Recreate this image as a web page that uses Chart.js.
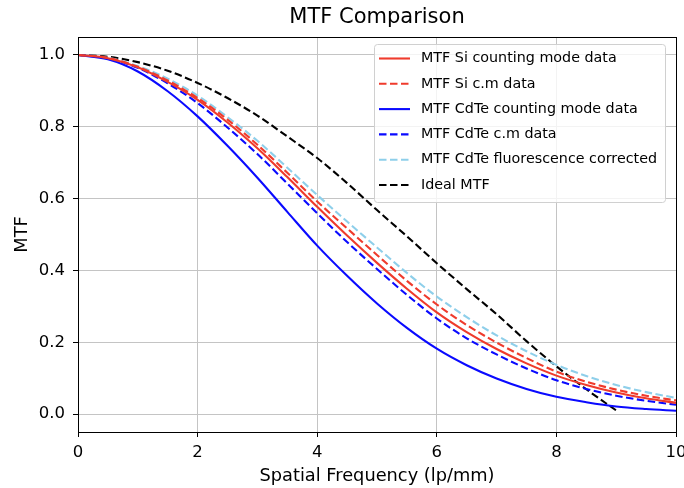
<!DOCTYPE html>
<html>
<head>
<meta charset="utf-8">
<script src="https://cdn.jsdelivr.net/npm/chart.js@4.4.1/dist/chart.umd.min.js"></script>
<style>
    html, body { margin: 0; padding: 0; background: #ffffff; }
    #wrap { width: 684px; height: 488px; }
</style>
</head>
<body>
<div id="wrap"><canvas id="mtfChart" width="684" height="488"></canvas></div>
<script>
// spatial frequency (lp/mm)
const freq = [0, 0.5, 1, 1.5, 2, 2.5, 3, 3.5, 4, 4.5, 5, 5.5, 6, 6.5, 7, 7.5, 8, 8.5, 9, 9.5, 10];
const freqIdeal = [0, 0.5, 1, 1.5, 2, 2.5, 3, 3.5, 4, 4.5, 5, 5.5, 6, 6.5, 7, 7.5, 8, 8.5, 9];

const siCounting = [1, 0.991, 0.966, 0.925, 0.875, 0.812, 0.740, 0.660, 0.577, 0.497, 0.421, 0.349, 0.283, 0.228, 0.181, 0.141, 0.107, 0.081, 0.060, 0.044, 0.031];
const siCm = [1, 0.992, 0.967, 0.929, 0.880, 0.820, 0.750, 0.672, 0.592, 0.517, 0.443, 0.371, 0.305, 0.248, 0.199, 0.156, 0.118, 0.090, 0.068, 0.051, 0.038];
const cdteCounting = [1, 0.988, 0.954, 0.899, 0.829, 0.747, 0.658, 0.563, 0.469, 0.385, 0.308, 0.240, 0.182, 0.136, 0.099, 0.070, 0.048, 0.033, 0.021, 0.014, 0.009];
const cdteCm = [1, 0.991, 0.964, 0.921, 0.866, 0.798, 0.724, 0.642, 0.559, 0.479, 0.404, 0.332, 0.266, 0.211, 0.166, 0.127, 0.094, 0.070, 0.051, 0.037, 0.026];
const cdteFluo = [1, 0.992, 0.969, 0.934, 0.887, 0.827, 0.761, 0.686, 0.610, 0.536, 0.464, 0.393, 0.327, 0.270, 0.219, 0.175, 0.137, 0.106, 0.081, 0.061, 0.045];
const idealMtf = [1, 0.995, 0.980, 0.956, 0.922, 0.880, 0.831, 0.773, 0.713, 0.643, 0.568, 0.495, 0.420, 0.348, 0.278, 0.203, 0.133, 0.069, 0.010];

const seriesLabels = [
    'MTF Si counting mode data',
    'MTF Si c.m data',
    'MTF CdTe counting mode data',
    'MTF CdTe c.m data',
    'MTF CdTe fluorescence corrected',
    'Ideal MTF'
];
const yTicks = [0, 0.2, 0.4, 0.6, 0.8, 1.0];
const chartTitle = 'MTF Comparison';

const FONT = "'DejaVu Sans', sans-serif";
const DASH = [7.5, 3.5];

function points(xs, ys) {
    return xs.map(function (x, i) { return { x: x, y: ys[i] }; });
}

function makeSet(label, xs, ys, color, dashed) {
    return {
        label: label,
        data: points(xs, ys),
        borderColor: color,
        backgroundColor: color,
        borderWidth: 2.1,
        borderDash: dashed ? DASH : [],
        pointRadius: 0,
        fill: false,
        cubicInterpolationMode: 'monotone'
    };
}

// title over the plot centre, legend box inside the plot, black frame
const decorations = {
    id: 'decorations',
    afterDatasetsDraw(chart) {
        const ctx = chart.ctx;
        const area = chart.chartArea;
        const right = area.right - 11, top = area.top + 7;
        const w = 291, h = 158;
        const left = right - w;
        ctx.save();
        ctx.beginPath();
        ctx.roundRect(left + 0.5, top + 0.5, w, h, 3);
        ctx.fillStyle = 'rgba(255,255,255,0.8)';
        ctx.fill();
        ctx.strokeStyle = '#d0d0d0';
        ctx.lineWidth = 1;
        ctx.stroke();
        ctx.font = '14.3px ' + FONT;
        ctx.textBaseline = 'middle';
        chart.data.datasets.forEach(function (ds, i) {
            const y = top + 14.5 + i * 25.3;
            ctx.beginPath();
            ctx.setLineDash(ds.borderDash);
            ctx.strokeStyle = ds.borderColor;
            ctx.lineWidth = 2.1;
            ctx.moveTo(left + 5, y);
            ctx.lineTo(left + 36, y);
            ctx.stroke();
            ctx.setLineDash([]);
            ctx.fillStyle = '#000';
            ctx.fillText(ds.label, left + 47, y);
        });
        ctx.restore();
    },
    afterDraw(chart) {
        const a = chart.chartArea;
        const ctx = chart.ctx;
        ctx.save();
        ctx.strokeStyle = '#000';
        ctx.lineWidth = 1;
        ctx.strokeRect(Math.round(a.left) + 0.5, Math.round(a.top) + 0.5,
            Math.round(a.right - a.left), Math.round(a.bottom - a.top));
        ctx.font = '21px ' + FONT;
        ctx.fillStyle = '#000';
        ctx.textAlign = 'center';
        ctx.textBaseline = 'middle';
        ctx.fillText(chartTitle, (a.left + a.right) / 2, 18);
        ctx.restore();
    }
};

const config = {
    type: 'line',
    data: {
        datasets: [
            makeSet(seriesLabels[0], freq, siCounting, '#ef3b2c', false),
            makeSet(seriesLabels[1], freq, siCm, '#ef3b2c', true),
            makeSet(seriesLabels[2], freq, cdteCounting, '#0a0aff', false),
            makeSet(seriesLabels[3], freq, cdteCm, '#0a0aff', true),
            makeSet(seriesLabels[4], freq, cdteFluo, '#8ecfea', true),
            makeSet(seriesLabels[5], freqIdeal, idealMtf, '#000000', true)
        ]
    },
    options: {
        responsive: false,
        animation: false,
        devicePixelRatio: 1,
        layout: { padding: { left: 0, right: 8, top: 37, bottom: 0 } },
        plugins: {
            legend: { display: false },
            tooltip: { enabled: false },
            title: { display: false }
        },
        scales: {
            x: {
                type: 'linear',
                min: 0,
                max: 10,
                border: { display: false },
                grid: { color: '#c4c4c4', lineWidth: 1, tickLength: 5, tickColor: '#000' },
                ticks: { stepSize: 2, color: '#000', padding: 6, font: { family: FONT, size: 16.5 }, maxRotation: 0 },
                title: { display: true, text: 'Spatial Frequency (lp/mm)', color: '#000', padding: 1, font: { family: FONT, size: 17.8 } },
                afterFit(scale) {
                    scale.height = 56;
                    scale.paddingLeft = 0;
                    scale.paddingRight = 0;
                }
            },
            y: {
                type: 'linear',
                min: -0.05,
                max: 1.05,
                border: { display: false },
                grid: { color: '#c4c4c4', lineWidth: 1, tickLength: 5, tickColor: '#000' },
                ticks: {
                    color: '#000',
                    padding: 8,
                    font: { family: FONT, size: 16.5 },
                    callback: function (v) { return Number(v).toFixed(1); }
                },
                afterBuildTicks(scale) {
                    scale.ticks = yTicks.map(function (v) { return { value: v }; });
                },
                title: { display: true, text: 'MTF', color: '#000', padding: 12, font: { family: FONT, size: 17.8 } },
                afterFit(scale) {
                    scale.width = 78;
                    scale.paddingTop = 0;
                    scale.paddingBottom = 0;
                }
            }
        }
    },
    plugins: [decorations]
};

new Chart(document.getElementById('mtfChart'), config);
</script>
</body>
</html>
